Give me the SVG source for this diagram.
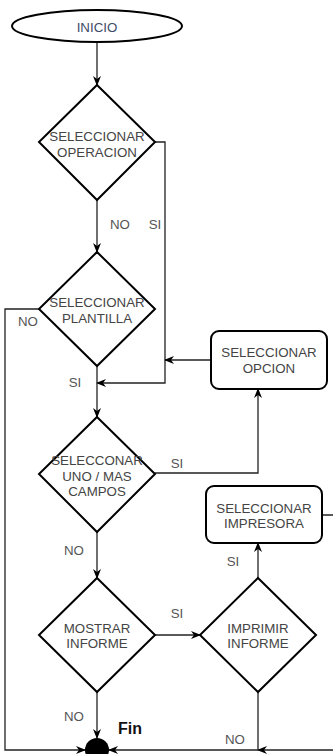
<svg xmlns="http://www.w3.org/2000/svg" width="333" height="754" viewBox="0 0 333 754">
  <defs>
    <style>
      .shape { fill: #ffffff; stroke: #000000; stroke-width: 2; }
      .edge { fill: none; stroke: #222222; stroke-width: 1.3; }
      .txt { font-family: "Liberation Sans", Arial, sans-serif; font-size: 13.3px; fill: #444444; text-anchor: middle; dominant-baseline: central; }
      .lbl { font-family: "Liberation Sans", Arial, sans-serif; font-size: 13.3px; fill: #555555; text-anchor: middle; dominant-baseline: central; }
      .start { fill: #3d4b66; }
      .fin { font-family: "Liberation Sans", Arial, sans-serif; font-size: 16px; font-weight: bold; fill: #111111; }
    </style>
    <marker id="arrow" viewBox="0 0 10 8" refX="9" refY="4" markerWidth="10" markerHeight="8" markerUnits="userSpaceOnUse" orient="auto">
      <path d="M0,0 L10,4 L0,8 L3,4 z" fill="#000000"/>
    </marker>
  </defs>

  <!-- connectors -->
  <g id="connectors">
    <path class="edge" d="M97,42 V85" marker-end="url(#arrow)"/>
    <path class="edge" d="M97,200 V252" marker-end="url(#arrow)"/>
    <path class="edge" d="M155,142 H165 V383 H97" marker-end="url(#arrow)"/>
    <path class="edge" d="M97,366 V417" marker-end="url(#arrow)"/>
    <path class="edge" d="M39,309 H5 V750 H85" marker-end="url(#arrow)"/>
    <path class="edge" d="M211,360 H165" marker-end="url(#arrow)"/>
    <path class="edge" d="M155,473 H258 V389" marker-end="url(#arrow)"/>
    <path class="edge" d="M97,532 V578" marker-end="url(#arrow)"/>
    <path class="edge" d="M155,635 H200" marker-end="url(#arrow)"/>
    <path class="edge" d="M97,692 V738" marker-end="url(#arrow)"/>
    <path class="edge" d="M258,578 V543" marker-end="url(#arrow)"/>
    <path class="edge" d="M322,515 H345 V750 H258" marker-end="url(#arrow)"/>
    <path class="edge" d="M258,692 V750 H109" marker-end="url(#arrow)"/>

    <text class="lbl" x="120" y="224">NO</text>
    <text class="lbl" x="155" y="224">SI</text>
    <text class="lbl" x="28" y="321">NO</text>
    <text class="lbl" x="75" y="382">SI</text>
    <text class="lbl" x="177" y="463">SI</text>
    <text class="lbl" x="74" y="550">NO</text>
    <text class="lbl" x="177" y="613">SI</text>
    <text class="lbl" x="74" y="716">NO</text>
    <text class="lbl" x="233" y="561">SI</text>
    <text class="lbl" x="235" y="739">NO</text>
  </g>

  <g id="inicio">
    <ellipse class="shape" cx="97" cy="26" rx="85" ry="16"/>
    <text class="txt start" x="97" y="27">INICIO</text>
  </g>

  <g id="seleccionar-operacion">
    <polygon class="shape" points="97,85 155,142 97,200 39,142"/>
    <text class="txt" x="97" y="136">SELECCIONAR</text>
    <text class="txt" x="97" y="152">OPERACION</text>
  </g>

  <g id="seleccionar-plantilla">
    <polygon class="shape" points="97,252 155,309 97,366 39,309"/>
    <text class="txt" x="97" y="302">SELECCIONAR</text>
    <text class="txt" x="97" y="318">PLANTILLA</text>
  </g>

  <g id="seleccionar-opcion">
    <rect class="shape" x="211" y="331" width="116" height="58" rx="8" ry="8"/>
    <text class="txt" x="269" y="352">SELECCIONAR</text>
    <text class="txt" x="269" y="368">OPCION</text>
  </g>

  <g id="seleccionar-campos">
    <polygon class="shape" points="97,417 155,474 97,532 39,474"/>
    <text class="txt" x="97" y="460">SELECCONAR</text>
    <text class="txt" x="97" y="476">UNO / MAS</text>
    <text class="txt" x="97" y="491">CAMPOS</text>
  </g>

  <g id="seleccionar-impresora">
    <rect class="shape" x="206" y="486" width="116" height="57" rx="8" ry="8"/>
    <text class="txt" x="264" y="508">SELECCIONAR</text>
    <text class="txt" x="264" y="523">IMPRESORA</text>
  </g>

  <g id="mostrar-informe">
    <polygon class="shape" points="97,578 155,635 97,692 39,635"/>
    <text class="txt" x="97" y="628">MOSTRAR</text>
    <text class="txt" x="97" y="643">INFORME</text>
  </g>

  <g id="imprimir-informe">
    <polygon class="shape" points="258,578 316,635 258,692 200,635"/>
    <text class="txt" x="258" y="628">IMPRIMIR</text>
    <text class="txt" x="258" y="643">INFORME</text>
  </g>

  <g id="fin">
    <circle cx="97" cy="750" r="12" fill="#000000"/>
    <text class="fin" x="118" y="734">Fin</text>
  </g>
</svg>
